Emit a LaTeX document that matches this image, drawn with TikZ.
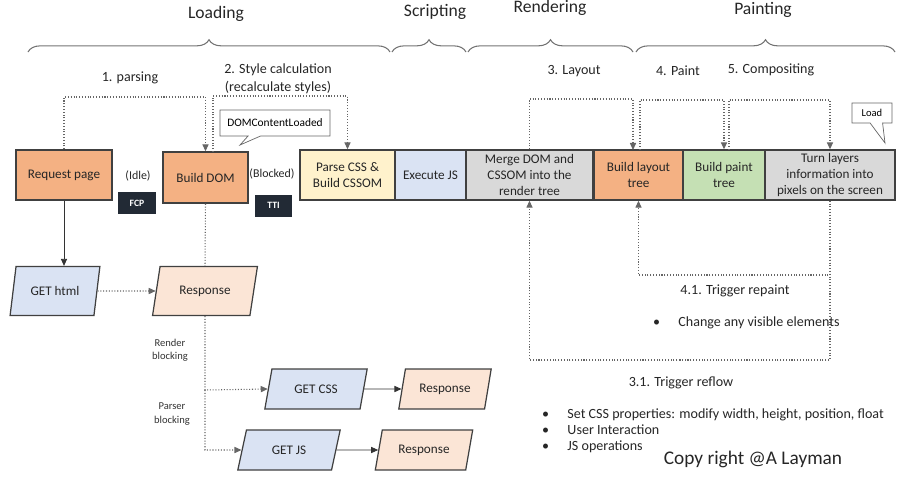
\documentclass[tikz,border=0pt]{standalone}
\usepackage{fontspec}
\setmainfont{Carlito}
\usetikzlibrary{shapes.geometric,shapes.callouts,arrows.meta,decorations.pathreplacing}
\definecolor{orng}{HTML}{F4B183}
\definecolor{ylw}{HTML}{FFF2CC}
\definecolor{blu}{HTML}{DAE3F3}
\definecolor{gry}{HTML}{D9D9D9}
\definecolor{grn}{HTML}{C5E0B4}
\definecolor{pch}{HTML}{FBE5D6}
\definecolor{navy}{HTML}{222A35}
\begin{document}
\begin{tikzpicture}[x=0.02cm,y=-0.02cm,
  txt/.style={font=\fontsize{7.5}{9}\selectfont,text=black!85},
  box/.style={txt,draw=black!75,line width=0.8pt,align=center,inner sep=0pt},
  para/.style={txt,draw=black!75,line width=0.7pt,trapezium,trapezium left angle=68,trapezium right angle=112,trapezium stretches=true,inner sep=0pt,minimum height=0.98cm},
  tag/.style={fill=navy,text=white,font=\fontsize{5.5}{6}\selectfont\bfseries,minimum width=0.76cm,minimum height=0.44cm,inner sep=0pt},
  dot/.style={densely dotted,black!60,line width=0.6pt},
  arr/.style={-{Triangle[length=4pt,width=3.5pt]}},
  lab/.style={font=\fontsize{8}{10}\selectfont,text=black!85,align=center},
  head/.style={font=\fontsize{10}{12}\selectfont,text=black!85},
  sm/.style={font=\fontsize{6}{7.5}\selectfont,text=black!80,align=center},
  brc/.style={decorate,decoration={brace,amplitude=7pt},black!55,line width=0.6pt}]
\useasboundingbox (0,0) rectangle (900,491);
% braces
\draw[brc] (28,52) -- (390,52); \node[head] (hL) at (216,14) {Loading};
\draw[brc] (392,52) -- (466,52); \node[head] (hS) at (435,12) {Scripting};
\draw[brc] (468,52) -- (633,52); \node[head] (hR) at (550,8) {Rendering};
\draw[brc] (636,52) -- (895,52); \node[head] (hP) at (763,10) {Painting};
% main nodes
\node[box,fill=orng,minimum width=1.92cm,minimum height=1cm] (req) at (64,175) {Request page};
\node[box,fill=orng,minimum width=1.7cm,minimum height=1.02cm] (dom) at (205.5,177.5) {Build DOM};
\node[txt,font=\fontsize{6.8}{8}\selectfont] (idle) at (138,176) {(Idle)};
\node[tag] (fcp) at (137,203) {FCP};
\node[txt,font=\fontsize{6.8}{8}\selectfont] (blk) at (272,174) {(Blocked)};
\node[tag] (tti) at (273.5,205.5) {TTI};
\node[box,fill=ylw,minimum width=1.9cm,minimum height=1cm] (css) at (347.5,175) {Parse CSS \&\\Build CSSOM};
\node[box,fill=blu,minimum width=1.42cm,minimum height=1cm] (js) at (430.5,175) {Execute JS};
\node[box,fill=gry,minimum width=2.54cm,minimum height=1cm] (mrg) at (529.5,175) {Merge DOM and\\CSSOM into the\\render tree};
\node[box,fill=orng,minimum width=1.78cm,minimum height=1cm] (lay) at (638.5,175) {Build layout\\tree};
\node[box,fill=grn,minimum width=1.64cm,minimum height=1cm] (pnt) at (724,175) {Build paint\\tree};
\node[box,fill=gry,minimum width=2.6cm,minimum height=1cm] (cmp) at (830,175) {Turn layers\\information into\\pixels on the screen};
% callouts
\node[rectangle callout,draw=black!60,fill=white,font=\fontsize{6.5}{8}\selectfont,minimum width=2.2cm,minimum height=0.52cm,inner sep=0pt,callout absolute pointer={(240,145)}] (dcl) at (275,123) {DOMContentLoaded};
\node[rectangle callout,draw=black!60,fill=white,font=\fontsize{6}{7}\selectfont,minimum width=0.8cm,minimum height=0.4cm,inner sep=0pt,callout absolute pointer={(885,143)}] (load) at (872,113) {Load};
% step labels
\node[lab] (l1) at (130,78) {1. parsing};
\node[lab] (l2) at (278,79) {2. Style calculation\\(recalculate styles)};
\node[lab] (l3) at (574,71) {3. Layout};
\node[lab] (l4) at (678,71) {4. Paint};
\node[lab] (l5) at (771,70) {5. Compositing};
% dotted top connectors
\draw[dot,arr] (req.north) |- (130,97) -| (dom.north);
\draw[dot,arr] (213,152) |- (300,96) -| (css.north);
\draw[dot,arr] (mrg.north) |- (590,99) -| (633,150);
\draw[dot,arr] (640,150) |- (690,100) -| (pnt.north);
\draw[dot,arr] (729,150) |- (790,100) -| (cmp.north);
% repaint/reflow
\draw[dot,arr] (cmp.south) |- (735,275) -| (lay.south);
\draw[dot,arr] (cmp.south) |- (680,360) -| (mrg.south);
\node[lab] (t41) at (735,291) {4.1. Trigger repaint};
\node[lab,anchor=west] (b0) at (647,323) {\textbullet\hspace{1.3em}Change any visible elements};
\node[lab] (t31) at (681,383) {3.1. Trigger reflow};
\node[lab,anchor=west,align=left] (bl) at (536,431) {\textbullet\hspace{1.3em}Set CSS properties: modify width, height, position, float\\[-1pt]\textbullet\hspace{1.3em}User Interaction\\[-1pt]\textbullet\hspace{1.3em}JS operations};
\node[font=\fontsize{11}{13}\selectfont,text=black!85] (cr) at (753,459) {Copy right @A Layman};
% lower flow
\node[para,fill=blu,minimum width=1.8cm] (gh) at (55,291) {GET html};
\node[para,fill=pch,minimum width=2.1cm] (rs) at (205,291) {Response};
\node[para,fill=blu,minimum width=2.05cm,minimum height=0.8cm] (gc) at (316,389) {GET CSS};
\node[para,fill=pch,minimum width=1.85cm,minimum height=0.8cm] (rc) at (445,389) {Response};
\node[para,fill=blu,minimum width=2.05cm,minimum height=0.8cm] (gj) at (289,450) {GET JS};
\node[para,fill=pch,minimum width=1.95cm,minimum height=0.8cm] (rj) at (424,450) {Response};
\draw[arr,black!80,line width=0.5pt] (req.south) -- (gh.north -| req.south);
\draw[dot,arr] (gh.east) -- (rs.west);
\draw[dot] (dom.south) -- (rs.north);
\coordinate (bra) at (205,390);
\coordinate (brb) at (205,450);
\draw[dot,arr] (rs.south) -- (bra) -- (gc.west);
\draw[dot,arr] (bra) -- (brb) -- (gj.west);
\draw[arr,black!80,line width=0.5pt] (gc.east) -- (rc.west);
\draw[arr,black!80,line width=0.5pt] (gj.east) -- (rj.west);
\node[sm] (rb) at (170,350) {Render\\blocking};
\node[sm] (pb) at (172,414) {Parser\\blocking};
\end{tikzpicture}
\end{document}
